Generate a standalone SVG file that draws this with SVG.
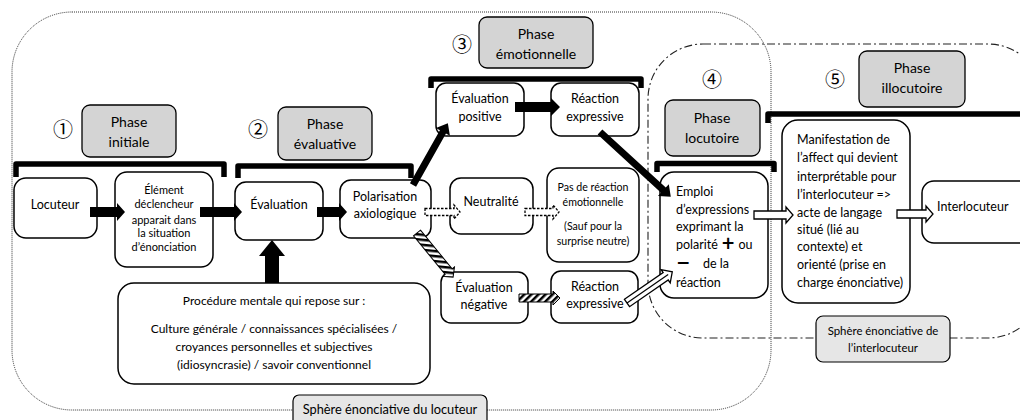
<svg xmlns="http://www.w3.org/2000/svg" width="1020" height="420" viewBox="0 0 1020 420">
<defs>
<style>
.node{fill:#fff;stroke:#000;stroke-width:1.5}
.phase{fill:#d4d4d4;stroke:#000;stroke-width:1.3}
.lab{fill:#e6e6e6;stroke:#000;stroke-width:1.2}
.t{font-family:Lato,"Open Sans",sans-serif;font-size:12.5px;fill:#000}
.pt{font-size:14px}
.c{text-anchor:middle}
.s{font-size:11px}
.num{font-family:"Noto Sans CJK JP","DejaVu Serif",serif;font-size:20px;text-anchor:middle;fill:#000}
.br{fill:none;stroke:#000;stroke-width:5.5;stroke-linejoin:round}
.blk{fill:#000}
.dsh{fill:#fff;stroke:#000;stroke-width:1.3;stroke-dasharray:2.5 1.5}
.hat{fill:url(#hatch);stroke:#000;stroke-width:1}
.wht{fill:#fff;stroke:#000;stroke-width:1.3}
.sph1{fill:none;stroke:#333;stroke-width:1;stroke-dasharray:1 1}
.sph2{fill:none;stroke:#222;stroke-width:1.1;stroke-dasharray:8 3 2 3}
</style>
<pattern id="hatch" width="5" height="5" patternUnits="userSpaceOnUse" patternTransform="rotate(45)">
<rect width="5" height="5" fill="#fff"/><rect width="2.5" height="5" fill="#000"/>
</pattern>
</defs>
<rect width="1020" height="420" fill="#fff"/>

<g id="spheres">
<rect class="sph1" x="12" y="12" width="759" height="398" rx="60"/>
<rect class="sph2" x="648" y="44" width="395" height="294" rx="55"/>
</g>

<g id="brackets">
<path class="br" d="M16,177 V164 H224 V177"/>
<path class="br" d="M238,178 V166 H411 V178"/>
<path class="br" d="M431,88 V79 H641 V88"/>
<path class="br" d="M657,172 V163.5 H774 V172"/>
<path class="br" d="M768,123 V114 H1025"/>
</g>

<g id="phases">
<g id="p1"><text class="num" x="63" y="137">①</text><rect class="phase" x="82" y="105" width="94" height="52" rx="8"/><text class="t c pt" x="129" y="127">Phase</text><text class="t c pt" x="129" y="147">initiale</text></g>
<g id="p2"><text class="num" x="258" y="137">②</text><rect class="phase" x="278" y="107" width="94" height="53" rx="8"/><text class="t c pt" x="325" y="129">Phase</text><text class="t c pt" x="325" y="149">évaluative</text></g>
<g id="p3"><text class="num" x="462" y="52">③</text><rect class="phase" x="479" y="17" width="114" height="51" rx="8"/><text class="t c pt" x="536" y="39">Phase</text><text class="t c pt" x="536" y="59">émotionnelle</text></g>
<g id="p4"><text class="num" x="712" y="87">④</text><rect class="phase" x="665" y="100" width="95" height="56" rx="8"/><text class="t c pt" x="712" y="123">Phase</text><text class="t c pt" x="712" y="143">locutoire</text></g>
<g id="p5"><text class="num" x="835" y="87">⑤</text><rect class="phase" x="859" y="51" width="106" height="56" rx="8"/><text class="t c pt" x="912" y="73">Phase</text><text class="t c pt" x="912" y="93">illocutoire</text></g>
</g>

<g id="locuteur"><rect class="node" x="14" y="178" width="83" height="60" rx="12"/><text class="t c" x="55" y="209">Locuteur</text></g>
<g id="element"><rect class="node" x="115" y="172" width="98" height="95" rx="12"/>
<text class="t c s" x="164" y="194">Élément</text><text class="t c s" x="164" y="208">déclencheur</text><text class="t c s" x="164" y="224">apparait dans</text><text class="t c s" x="164" y="237">la situation</text><text class="t c s" x="164" y="251">d’énonciation</text></g>
<g id="evaluation"><rect class="node" x="235" y="182" width="88" height="58" rx="11"/><text class="t c" x="279" y="209">Évaluation</text></g>
<g id="polarisation"><rect class="node" x="340" y="180" width="91" height="58" rx="11"/><text class="t c" x="385" y="201">Polarisation</text><text class="t c" x="385" y="218">axiologique</text></g>
<g id="evalpos"><rect class="node" x="436" y="83" width="88" height="53" rx="10"/><text class="t c" x="480" y="103">Évaluation</text><text class="t c" x="480" y="121">positive</text></g>
<g id="reacpos"><rect class="node" x="551" y="83" width="88" height="53" rx="10"/><text class="t c" x="595" y="103">Réaction</text><text class="t c" x="595" y="121">expressive</text></g>
<g id="neutralite"><rect class="node" x="450" y="178" width="83" height="56" rx="11"/><text class="t c" x="491" y="206">Neutralité</text></g>
<g id="pasreac"><rect class="node" x="547" y="168" width="92" height="94" rx="12"/>
<text class="t c" style="font-size:10.6px" x="593" y="191">Pas de réaction</text><text class="t c" style="font-size:10.6px" x="593" y="206">émotionnelle</text><text class="t c" style="font-size:10.6px" x="593" y="230">(Sauf pour la</text><text class="t c" style="font-size:10.6px" x="593" y="245">surprise neutre)</text></g>
<g id="evalneg"><rect class="node" x="441" y="272" width="87" height="51" rx="10"/><text class="t c" x="484" y="292">Évaluation</text><text class="t c" x="484" y="309">négative</text></g>
<g id="reacneg"><rect class="node" x="551" y="271" width="87" height="52" rx="10"/><text class="t c" x="595" y="291">Réaction</text><text class="t c" x="595" y="308">expressive</text></g>
<g id="emploi"><rect class="node" x="660" y="172" width="108" height="126" rx="14"/>
<text class="t" x="676" y="196">Emploi</text>
<text class="t" x="676" y="214">d’expressions</text>
<text class="t" x="676" y="231">exprimant la</text>
<text class="t" x="676" y="249">polarité <tspan style="font-weight:900;font-size:17px;font-family:'DejaVu Sans',sans-serif">+</tspan> ou</text>
<text class="t" x="676" y="268"><tspan style="font-weight:900;font-size:17px;font-family:'DejaVu Sans',sans-serif">−</tspan><tspan x="703">de la</tspan></text>
<text class="t" x="676" y="287">réaction</text></g>
<g id="manifestation"><rect class="node" x="782" y="120" width="128" height="183" rx="16"/>
<text class="t" x="797" y="144">Manifestation de</text>
<text class="t" x="797" y="162">l’affect qui devient</text>
<text class="t" x="797" y="181">interprétable pour</text>
<text class="t" x="797" y="199">l’interlocuteur =&gt;</text>
<text class="t" x="797" y="217">acte de langage</text>
<text class="t" x="797" y="234">situé (lié au</text>
<text class="t" x="797" y="251">contexte) et</text>
<text class="t" x="797" y="269">orienté (prise en</text>
<text class="t" x="797" y="287">charge énonciative)</text></g>
<g id="interlocuteur"><rect class="node" x="922" y="181" width="110" height="62" rx="12"/><text class="t" x="937" y="211">Interlocuteur</text></g>
<g id="procedure"><rect class="node" x="118" y="283" width="312" height="101" rx="16"/>
<text class="t c" style="font-size:12px" x="274" y="305">Procédure mentale qui repose sur :</text>
<text class="t c" style="font-size:12px" x="274" y="333">Culture générale / connaissances spécialisées /</text>
<text class="t c" style="font-size:12px" x="274" y="351">croyances personnelles et subjectives</text>
<text class="t c" style="font-size:12px" x="274" y="369">(idiosyncrasie) / savoir conventionnel</text></g>

<g id="sphere-labels">
<g id="lab-locuteur"><rect class="lab" x="293" y="395" width="194" height="32" rx="6"/><text class="t c" style="font-size:12.8px" x="390" y="414">Sphère énonciative du locuteur</text></g>
<g id="lab-interlocuteur"><rect class="lab" x="816" y="316" width="134" height="46" rx="7"/><text class="t c" style="font-size:11.4px" x="883" y="335">Sphère énonciative de</text><text class="t c" style="font-size:11.4px" x="883" y="352">l’interlocuteur</text></g>
</g>

<g id="connectors">
<polygon class="blk" transform="translate(90,212)" points="0,-5 27,-5 27,-9 35,0 27,9 27,5 0,5"/>
<polygon class="blk" transform="translate(200,212)" points="0,-5 34,-5 34,-9 42,0 34,9 34,5 0,5"/>
<polygon class="blk" transform="translate(317,212)" points="0,-5 22,-5 22,-9 30,0 22,9 22,5 0,5"/>
<polygon class="blk" transform="translate(272,283) rotate(-90)" points="0,-7 27,-7 27,-13 43,0 27,13 27,7 0,7"/>
<polygon class="blk" transform="translate(413,185) rotate(-60.6)" points="0,-3.5 61,-3.5 61,-8 71,0 61,8 61,3.5 0,3.5"/>
<polygon class="blk" transform="translate(515,107)" points="0,-5 36,-5 36,-9 45,0 36,9 36,5 0,5"/>
<polygon class="blk" transform="translate(600,132) rotate(42.5)" points="0,-3.5 86,-3.5 86,-8 96,0 86,8 86,3.5 0,3.5"/>
<polygon class="dsh" transform="translate(425,212)" points="0,-3.5 29,-3.5 29,-7 35,0 29,7 29,3.5 0,3.5"/>
<polygon class="dsh" transform="translate(525,212)" points="0,-3.5 28,-3.5 28,-7 34,0 28,7 28,3.5 0,3.5"/>
<polygon class="hat" transform="translate(417,233) rotate(50.7)" points="0,-4.5 50,-4.5 50,-7.5 57,0 50,7.5 50,4.5 0,4.5"/>
<polygon class="hat" transform="translate(519,298)" points="0,-4 34,-4 34,-7 41,0 34,7 34,4 0,4"/>
<g transform="translate(627,303) rotate(-34.6)"><polygon class="wht" points="0,-4.5 47,-4.5 47,-8 55,0 47,8 47,4.5 0,4.5"/><line x1="0" y1="0" x2="50" y2="0" stroke="#000" stroke-width="1.2"/></g>
<polygon class="wht" transform="translate(754,215)" points="0,-4 32,-4 32,-8 39,0 32,8 32,4 0,4"/>
<polygon class="wht" transform="translate(897,214)" points="0,-4 29,-4 29,-8 36,0 29,8 29,4 0,4"/>
</g>
</svg>
